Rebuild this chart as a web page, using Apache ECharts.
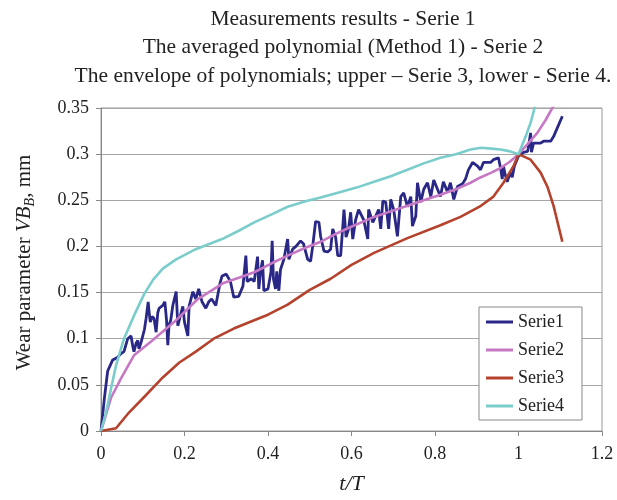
<!DOCTYPE html>
<html>
<head>
<meta charset="utf-8">
<script src="https://cdn.jsdelivr.net/npm/echarts/dist/echarts.min.js"></script>
<style>
  html, body { margin: 0; padding: 0; background: #fff; }
  #chart { width: 617px; height: 500px; }
</style>
</head>
<body>
<div id="chart"></div>
<script>
// [t/T, VB_B] pairs
var serie1 = [
  [0,0],[0.008,0.035],[0.016,0.065],[0.028,0.077],[0.04,0.08],[0.048,0.084],[0.055,0.086],[0.064,0.1],[0.072,0.103],
  [0.076,0.092],[0.079,0.086],[0.084,0.095],[0.088,0.098],[0.091,0.089],[0.096,0.096],[0.1,0.097],[0.104,0.11],
  [0.108,0.122],[0.113,0.14],[0.115,0.13],[0.118,0.118],[0.122,0.124],[0.127,0.122],[0.132,0.107],[0.136,0.128],
  [0.139,0.133],[0.148,0.136],[0.153,0.14],[0.157,0.12],[0.16,0.093],[0.163,0.115],[0.167,0.12],[0.172,0.136],
  [0.18,0.151],[0.184,0.114],[0.19,0.125],[0.196,0.135],[0.2,0.118],[0.208,0.103],[0.211,0.135],[0.22,0.151],
  [0.227,0.143],[0.234,0.154],[0.242,0.14],[0.251,0.133],[0.258,0.14],[0.265,0.143],[0.275,0.136],[0.285,0.16],
  [0.29,0.168],[0.3,0.17],[0.31,0.162],[0.318,0.145],[0.33,0.146],[0.34,0.157],[0.347,0.19],[0.35,0.162],
  [0.36,0.165],[0.367,0.162],[0.375,0.189],[0.378,0.154],[0.383,0.175],[0.387,0.185],[0.39,0.152],[0.4,0.154],
  [0.407,0.172],[0.41,0.206],[0.413,0.165],[0.418,0.154],[0.421,0.173],[0.426,0.152],[0.43,0.175],[0.438,0.186],
  [0.447,0.208],[0.45,0.186],[0.459,0.197],[0.467,0.2],[0.478,0.206],[0.485,0.203],[0.495,0.186],[0.502,0.184],
  [0.507,0.2],[0.514,0.227],[0.522,0.226],[0.526,0.211],[0.534,0.195],[0.543,0.194],[0.55,0.197],[0.555,0.219],
  [0.562,0.21],[0.567,0.19],[0.574,0.19],[0.579,0.221],[0.582,0.24],[0.587,0.21],[0.593,0.219],[0.598,0.237],
  [0.603,0.208],[0.61,0.229],[0.617,0.24],[0.629,0.229],[0.639,0.208],[0.641,0.24],[0.651,0.226],[0.658,0.233],
  [0.665,0.24],[0.67,0.219],[0.675,0.249],[0.682,0.248],[0.689,0.219],[0.694,0.251],[0.701,0.24],[0.71,0.211],
  [0.718,0.254],[0.725,0.258],[0.734,0.243],[0.742,0.254],[0.746,0.222],[0.754,0.233],[0.758,0.269],[0.766,0.248],
  [0.773,0.262],[0.782,0.269],[0.79,0.254],[0.797,0.272],[0.806,0.262],[0.813,0.254],[0.82,0.27],[0.83,0.259],
  [0.837,0.269],[0.845,0.251],[0.854,0.265],[0.866,0.268],[0.873,0.273],[0.88,0.283],[0.89,0.291],[0.902,0.287],
  [0.909,0.283],[0.916,0.291],[0.933,0.291],[0.94,0.294],[0.952,0.296],[0.957,0.285],[0.961,0.273],[0.964,0.287],
  [0.968,0.278],[0.973,0.27],[0.98,0.28],[0.985,0.275],[0.99,0.287],[1.0,0.298],[1.012,0.302],[1.022,0.303],
  [1.029,0.323],[1.031,0.302],[1.036,0.312],[1.053,0.312],[1.06,0.314],[1.077,0.314],[1.084,0.319],[1.105,0.341]
];
var serie2 = [
  [0,0],[0.024,0.036],[0.048,0.057],[0.079,0.082],[0.12,0.097],[0.175,0.118],[0.232,0.143],[0.292,0.16],
  [0.33,0.166],[0.367,0.172],[0.41,0.182],[0.447,0.19],[0.487,0.198],[0.526,0.205],[0.56,0.213],[0.598,0.221],
  [0.654,0.232],[0.694,0.238],[0.734,0.244],[0.773,0.25],[0.813,0.256],[0.85,0.262],[0.885,0.269],[0.91,0.275],
  [0.935,0.28],[0.957,0.285],[0.98,0.292],[1.0,0.3],[1.02,0.31],[1.045,0.323],[1.065,0.337],[1.086,0.354]
];
var serie3 = [
  [0,0],[0.036,0.003],[0.067,0.02],[0.108,0.039],[0.148,0.058],[0.187,0.074],[0.227,0.086],[0.27,0.1],
  [0.318,0.111],[0.367,0.12],[0.4,0.126],[0.447,0.137],[0.5,0.153],[0.55,0.165],[0.6,0.18],[0.654,0.193],
  [0.734,0.209],[0.813,0.223],[0.861,0.232],[0.91,0.244],[0.94,0.254],[0.964,0.269],[0.988,0.287],[1.0,0.3],
  [1.029,0.294],[1.053,0.28],[1.069,0.265],[1.084,0.244],[1.105,0.205]
];
var serie4 = [
  [0,0],[0.012,0.02],[0.024,0.046],[0.036,0.071],[0.055,0.1],[0.079,0.125],[0.103,0.148],[0.125,0.164],
  [0.148,0.176],[0.18,0.186],[0.227,0.197],[0.29,0.208],[0.33,0.217],[0.367,0.226],[0.41,0.235],[0.447,0.243],
  [0.49,0.249],[0.526,0.253],[0.574,0.259],[0.614,0.264],[0.654,0.27],[0.694,0.276],[0.734,0.283],[0.773,0.29],
  [0.813,0.296],[0.85,0.3],[0.885,0.305],[0.91,0.307],[0.935,0.306],[0.957,0.305],[0.98,0.303],[1.0,0.3],
  [1.017,0.319],[1.029,0.334],[1.042,0.356]
];
var names = ['Serie1', 'Serie2', 'Serie3', 'Serie4'];
var colors = ['#2a2886', '#c678c4', '#b4422c', '#7acdca'];
var titleLines = [
  'Measurements results - Serie 1',
  'The averaged polynomial (Method 1) - Serie 2',
  'The envelope of polynomials; upper \u2013 Serie 3, lower - Serie 4.'
];

var font = 'Liberation Serif';
var chart = echarts.init(document.getElementById('chart'));

var allData = [serie1, serie2, serie3, serie4];
var series = [];
for (var i = 0; i < names.length; i++) {
  series.push({
    name: names[i],
    type: 'line',
    data: allData[i],
    symbol: 'none',
    clip: true,
    lineStyle: { width: i === 0 ? 2.8 : 2.6, color: colors[i] },
    itemStyle: { color: colors[i] }
  });
}

var option = {
  animation: false,
  backgroundColor: '#fff',
  title: {
    text: titleLines.join('\n'),
    left: 343,
    top: 5,
    padding: 0,
    textAlign: 'center',
    textStyle: { fontFamily: font, fontSize: 21.5, fontWeight: 'normal', color: '#222', lineHeight: 28.5 }
  },
  legend: {
    data: names,
    orient: 'vertical',
    left: 479,
    top: 307,
    icon: 'rect',
    itemWidth: 27,
    itemHeight: 3,
    itemGap: 10,
    padding: [6, 18, 5, 7],
    borderColor: '#888',
    borderWidth: 1,
    backgroundColor: '#fff',
    textStyle: { fontFamily: font, fontSize: 18, color: '#222' }
  },
  grid: {
    left: 101, right: 15, top: 108, bottom: 67,
    show: true, borderColor: '#999', borderWidth: 1, backgroundColor: 'transparent'
  },
  xAxis: {
    type: 'value',
    min: 0, max: 1.2, interval: 0.2,
    name: 't/T',
    nameLocation: 'middle',
    nameGap: 42,
    nameTextStyle: { fontFamily: font, fontSize: 22, fontStyle: 'italic', color: '#222' },
    axisLine: { lineStyle: { color: '#888' } },
    axisTick: { show: true, length: 5, lineStyle: { color: '#888' } },
    splitLine: { show: false },
    axisLabel: {
      fontFamily: font, fontSize: 18, color: '#222', margin: 14,
      formatter: function (v) { return String(+v.toFixed(1)); }
    }
  },
  yAxis: {
    type: 'value',
    min: 0, max: 0.35, interval: 0.05,
    name: '{a|Wear parameter }{b|VB}{c|B}{a|, mm}',
    nameLocation: 'middle',
    nameGap: 64,
    nameTextStyle: {
      fontFamily: font, fontSize: 21, color: '#222',
      padding: [0, 0, 0, 14],
      rich: {
        a: { fontFamily: font, fontSize: 21, color: '#222', lineHeight: 25 },
        b: { fontFamily: font, fontSize: 21, fontStyle: 'italic', color: '#222', lineHeight: 25 },
        c: { fontFamily: font, fontSize: 14, fontStyle: 'italic', color: '#222', verticalAlign: 'bottom', lineHeight: 14 }
      }
    },
    axisLine: { show: true, lineStyle: { color: '#888' } },
    axisTick: { show: true, length: 5, lineStyle: { color: '#888' } },
    splitLine: { show: true, lineStyle: { color: '#a6a6a6', width: 1 } },
    axisLabel: {
      fontFamily: font, fontSize: 18, color: '#222', margin: 12,
      formatter: function (v) { return String(+v.toFixed(2)); }
    }
  },
  series: series
};

chart.setOption(option);
</script>
</body>
</html>
